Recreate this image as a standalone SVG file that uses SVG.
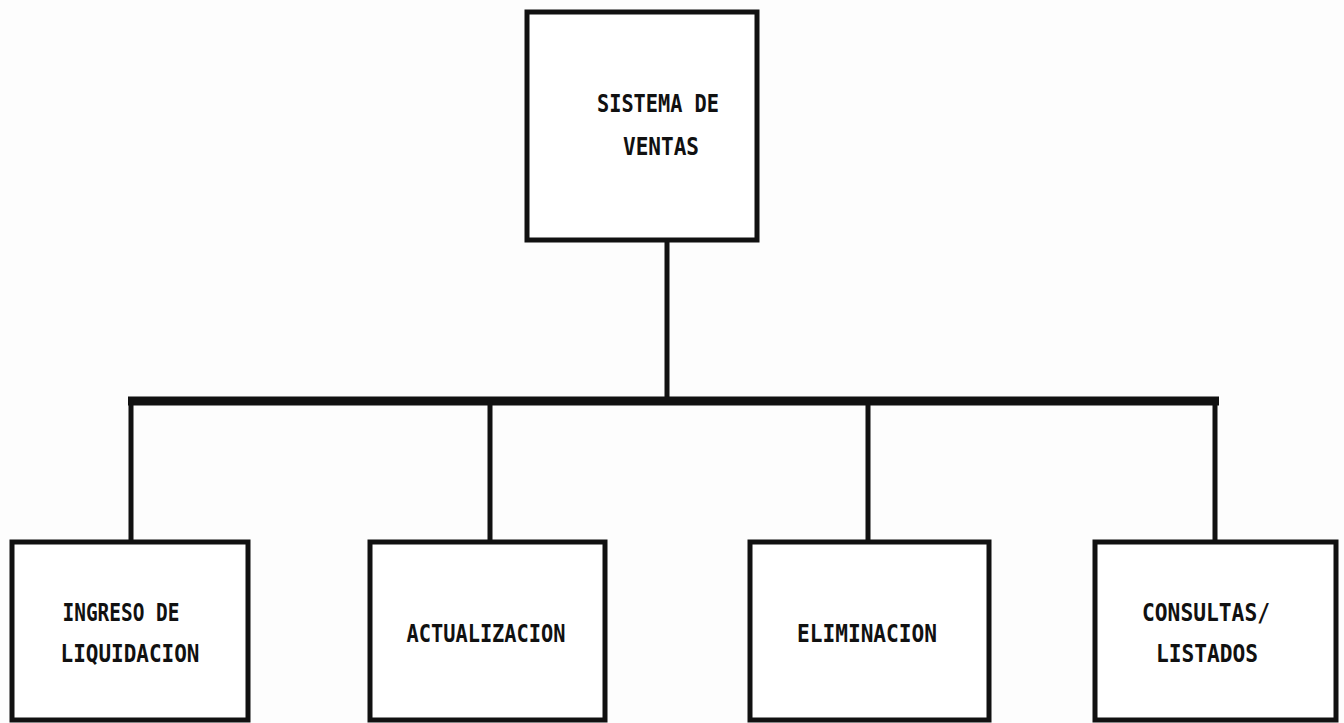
<svg xmlns="http://www.w3.org/2000/svg" width="1344" height="723" viewBox="0 0 1344 723">
<style>
.box{fill:#fff;stroke:#111;stroke-width:5}
.ln{stroke:#111;stroke-width:5;fill:none}
.bar{stroke:#111;stroke-width:9;fill:none}
.t{font-family:"DejaVu Sans Mono","Liberation Mono",monospace;font-weight:bold;font-size:24px;fill:#111;text-anchor:middle}
</style>
<rect width="1344" height="723" fill="#fdfdfd"/>
<g id="connectors">
<line class="ln" x1="667" y1="240" x2="667" y2="400"/>
<line class="bar" x1="128" y1="401" x2="1219" y2="401"/>
<line class="ln" x1="131" y1="401" x2="131" y2="542"/>
<line class="ln" x1="490" y1="401" x2="490" y2="542"/>
<line class="ln" x1="868" y1="401" x2="868" y2="542"/>
<line class="ln" x1="1215" y1="401" x2="1215" y2="542"/>
</g>
<g id="sistema">
<rect class="box" x="527" y="12" width="230" height="228"/>
<text class="t" x="658" y="112" textLength="122" lengthAdjust="spacingAndGlyphs">SISTEMA DE</text>
<text class="t" x="661" y="155" textLength="76" lengthAdjust="spacingAndGlyphs">VENTAS</text>
</g>
<g id="ingreso">
<rect class="box" x="12" y="542" width="236" height="178"/>
<text class="t" x="121" y="621" textLength="117" lengthAdjust="spacingAndGlyphs">INGRESO DE</text>
<text class="t" x="130" y="662" textLength="139" lengthAdjust="spacingAndGlyphs">LIQUIDACION</text>
</g>
<g id="actualizacion">
<rect class="box" x="370" y="542" width="235" height="178"/>
<text class="t" x="486" y="642" textLength="159" lengthAdjust="spacingAndGlyphs">ACTUALIZACION</text>
</g>
<g id="eliminacion">
<rect class="box" x="750" y="542" width="239" height="178"/>
<text class="t" x="867" y="642" textLength="140" lengthAdjust="spacingAndGlyphs">ELIMINACION</text>
</g>
<g id="consultas">
<rect class="box" x="1095" y="542" width="241" height="178"/>
<text class="t" x="1206" y="621" textLength="128" lengthAdjust="spacingAndGlyphs">CONSULTAS/</text>
<text class="t" x="1207" y="662" textLength="102" lengthAdjust="spacingAndGlyphs">LISTADOS</text>
</g>
</svg>
